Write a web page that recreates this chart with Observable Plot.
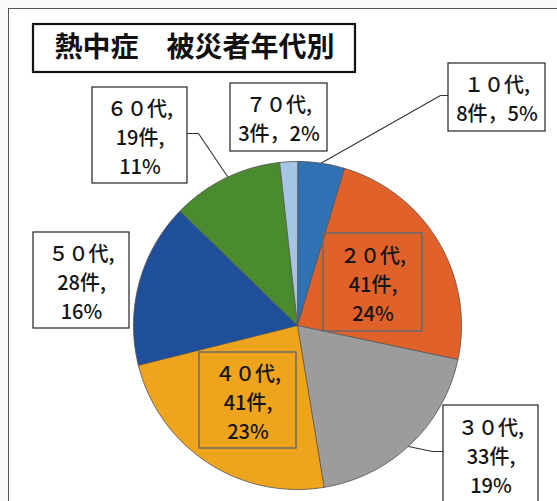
<!DOCTYPE html>
<html><head><meta charset="utf-8">
<script src="https://cdn.jsdelivr.net/npm/d3@7"></script>
<script src="https://cdn.jsdelivr.net/npm/@observablehq/plot@0.6"></script>
<style>
body{margin:0;background:#fff;}
#wrap{position:relative;width:557px;height:501px;overflow:hidden;background:#fafafa;}
#frame{position:absolute;left:8px;top:8px;width:600px;height:600px;border:1.5px solid #555;background:#fff;}
#chart{position:absolute;left:0;top:0;}
</style></head><body>
<div id="wrap"><div id="frame"></div><div id="chart"></div></div>
<script>
// ---- data ----
const title = "熱中症　被災者年代別";
const ages = ["１０代","２０代","３０代","４０代","５０代","６０代","７０代"];
const counts = [8, 41, 33, 41, 28, 19, 3];
const percents = [5, 24, 19, 23, 16, 11, 2];
const colors = ["#3071b4","#e0622a","#9c9c9c","#eea41c","#1f4f9b","#4b8b2f","#a4c5e6"];

// ---- layout (pixels) ----
const CX = 297, CY = 325, R = 164;
const FONT = "'Noto Sans CJK JP', 'Noto Sans', sans-serif";
// label boxes [left, top, right, bottom], two-line flag, inside-pie flag
const boxLayout = [
  {box:[448, 63, 545, 131], twoLine:true,  inside:false},
  {box:[323, 233, 422, 331], twoLine:false, inside:true},
  {box:[443, 405, 538, 503], twoLine:false, inside:false},
  {box:[199, 352, 296, 448], twoLine:false, inside:true},
  {box:[33, 232, 129, 328], twoLine:false, inside:false},
  {box:[92, 87, 187, 183], twoLine:false, inside:false},
  {box:[230, 83, 327, 151], twoLine:true,  inside:false}
];
const leaderLayout = [
  {i:0, pts:[[448,95],[440,95],[320,163]]},
  {i:5, pts:[[187,133],[198,133],[227,176]]},
  {i:2, pts:[[443,451],[432,451],[408,446]]}
];
const titleBox = [33, 24, 355, 72];

// px -> unit coordinates of the pie scales
const ux = px => (px - CX) / R;
const uy = py => (CY - py) / R;

// ---- slices from the data ----
const arcs = d3.pie().sort(null).startAngle(0).endAngle(2 * Math.PI)(counts);
const slicePts = [];
arcs.forEach((a, i) => {
  slicePts.push({age: ages[i], x: 0, y: 0});
  const n = Math.max(2, Math.ceil((a.endAngle - a.startAngle) * 60));
  for (let k = 0; k <= n; k++) {
    const t = a.startAngle + (a.endAngle - a.startAngle) * k / n;
    slicePts.push({age: ages[i], x: Math.sin(t), y: Math.cos(t)});
  }
});

// ---- labels ----
const labels = ages.map((age, i) => {
  const L = boxLayout[i];
  const [l, t, r, b] = L.box;
  const text = L.twoLine
    ? `${age},\n${counts[i]}件，${percents[i]}%`
    : `${age},\n${counts[i]}件,\n${percents[i]}%`;
  return {age, text, inside: L.inside,
    x1: ux(l), x2: ux(r), y1: uy(b), y2: uy(t),
    cx: ux((l + r) / 2), cy: uy((t + b) / 2)};
});
const leaders = leaderLayout.flatMap(d => d.pts.map(([px, py]) => ({age: ages[d.i], x: ux(px), y: uy(py)})));
const titleDatum = [{text: title,
  x1: ux(titleBox[0]), x2: ux(titleBox[2]), y1: uy(titleBox[3]), y2: uy(titleBox[1]),
  cx: ux((titleBox[0] + titleBox[2]) / 2), cy: uy((titleBox[1] + titleBox[3]) / 2)}];

const chart = Plot.plot({
  width: 557, height: 501, margin: 0,
  x: {domain: [-1, 1], range: [CX - R, CX + R], axis: null},
  y: {domain: [-1, 1], range: [CY + R, CY - R], axis: null},
  color: {domain: ages, range: colors},
  style: {background: "transparent", fontFamily: FONT},
  marks: [
    Plot.line(leaders, {x: "x", y: "y", z: "age", stroke: "#333", strokeWidth: 1.1}),
    Plot.line(slicePts, {x: "x", y: "y", z: "age", fill: "age", stroke: "#505050", strokeWidth: 0.8, curve: "linear-closed"}),
    Plot.rect(labels.filter(d => !d.inside), {x1: "x1", x2: "x2", y1: "y1", y2: "y2", fill: "#fff", stroke: "#333", strokeWidth: 1.3}),
    Plot.rect(labels.filter(d => d.inside), {x1: "x1", x2: "x2", y1: "y1", y2: "y2", fill: "none", stroke: "#6a6a6a", strokeWidth: 1.5}),
    Plot.text(labels, {x: "cx", y: "cy", text: "text", fontSize: 20, fontWeight: 500, lineHeight: 1.45, fill: "#151515", fontFamily: FONT}),
    Plot.rect(titleDatum, {x1: "x1", x2: "x2", y1: "y1", y2: "y2", fill: "#fff", stroke: "#111", strokeWidth: 2.2}),
    Plot.text(titleDatum, {x: "cx", y: "cy", text: "text", fontSize: 28, fontWeight: "bold", fill: "#111", fontFamily: FONT})
  ]
});
document.getElementById("chart").appendChild(chart);
</script>
</body></html>
